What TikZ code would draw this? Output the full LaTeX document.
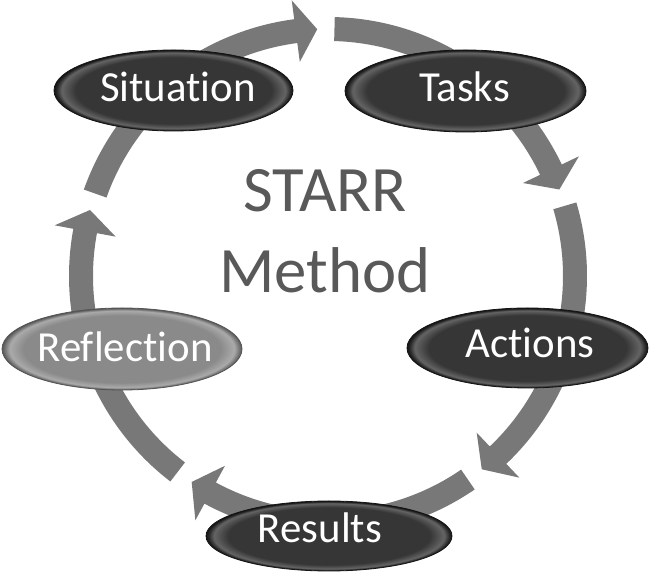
\documentclass[tikz,border=0pt]{standalone}
\usepackage{fontspec}
\setmainfont{Carlito}[Ligatures={NoCommon}]
\usetikzlibrary{shapes.geometric}
\definecolor{arrowgray}{HTML}{787878}
\definecolor{titlegray}{HTML}{595959}
\definecolor{dcenter}{HTML}{363636}
\definecolor{drim}{HTML}{646464}
\definecolor{dedge}{HTML}{262626}
\definecolor{dout}{HTML}{141414}
\definecolor{lcenter}{HTML}{8A8A8A}
\definecolor{lrim}{HTML}{AAAAAA}
\definecolor{ledge}{HTML}{707070}
\definecolor{lout}{HTML}{555555}
\pgfdeclareradialshading{darkbevel}{\pgfpoint{0bp}{0bp}}{color(0bp)=(dcenter); color(20.5bp)=(dcenter); color(23.4bp)=(drim); color(24.5bp)=(dedge); color(25bp)=(dout); color(50bp)=(dout)}
\pgfdeclareradialshading{lightbevel}{\pgfpoint{0bp}{0bp}}{color(0bp)=(lcenter); color(20.5bp)=(lcenter); color(23.4bp)=(lrim); color(24.5bp)=(ledge); color(25bp)=(lout); color(50bp)=(lout)}
\tikzset{
  stepell/.style={shape=ellipse, inner sep=0pt, shade, shading=darkbevel, draw=dout, line width=0.8pt},
  lightell/.style={shape=ellipse, inner sep=0pt, shade, shading=lightbevel, draw=lout, line width=0.8pt},
  stepname/.style={anchor=base, inner sep=0pt, text=white, font=\fontsize{43}{43}\selectfont},
  titletext/.style={anchor=base, inner sep=0pt, text=titlegray, font=\fontsize{65}{65}\selectfont},
  cyclearrow/.style={fill=arrowgray}
}
\begin{document}
\begin{tikzpicture}[x=1bp, y=1bp]
\useasboundingbox (0,0) rectangle (650,573);
\fill[white] (0,0) rectangle (650,573);
% circular arrows
\begin{scope}[shift={(328,297)}]
\foreach \s in {160.5,88.5,16.5,-55.5,-127.5}{
  \pgfmathsetmacro\t{\s-68}
  \pgfmathsetmacro\h{\t+5}
  \fill[cyclearrow] (\s:259) arc[start angle=\s, end angle=\h, radius=259]
    -- (\h:278) -- (\t:247) -- (\h:216) -- (\h:235)
    arc[start angle=\h, end angle=\s, radius=235] -- cycle;
}
\end{scope}
% ellipses
\node[stepell, minimum width=239bp, minimum height=81bp] (sit) at (173.5,482.5) {};
\node[stepell, minimum width=241bp, minimum height=82bp] (tas) at (465.5,482) {};
\node[stepell, minimum width=241bp, minimum height=80bp] (act) at (527.5,225) {};
\node[lightell, minimum width=240bp, minimum height=82bp] (ref) at (122,224) {};
\node[stepell, minimum width=246bp, minimum height=70bp] (res) at (329,37) {};
% labels
\node[stepname] (sitt) at (178,471) {Situation};
\node[stepname] (tast) at (464.5,471) {Tasks};
\node[stepname] (actt) at (530,215) {Actions};
\node[stepname] (reft) at (125,211) {Reflection};
\node[stepname] (rest) at (320,30) {Results};
\node[titletext] (t1) at (325,361) {STARR};
\node[titletext] (t2) at (325,280) {Method};
\end{tikzpicture}
\end{document}
